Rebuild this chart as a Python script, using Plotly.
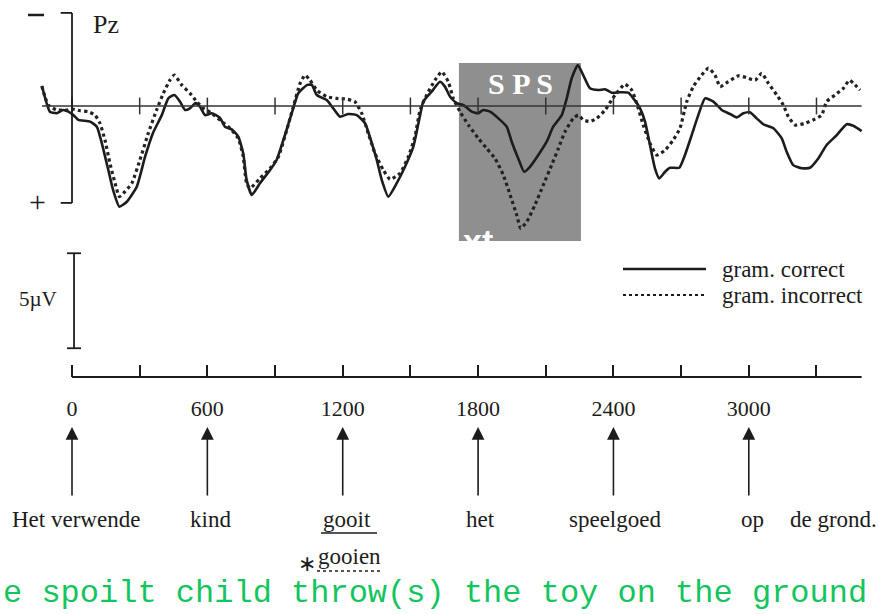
import plotly.graph_objects as go

# ---------------- data ----------------
correct_t = [-133, -98, -68, -39, -16, 6, 28, 80, 110, 132,
             161, 182, 210, 243, 287, 324, 359, 398, 427, 454,
             479, 501, 523, 548, 567, 590, 619, 656, 678, 708,
             737, 759, 774, 797, 833, 878, 907, 937, 974, 1003,
             1043, 1063, 1085, 1129, 1158, 1188, 1225, 1262, 1299, 1329,
             1351, 1373, 1402, 1439, 1476, 1513, 1543, 1557, 1594, 1631,
             1653, 1676, 1705, 1735, 1772, 1801, 1823, 1853, 1890, 1927,
             1949, 1978, 2004, 2030, 2067, 2104, 2133, 2171, 2193, 2215,
             2242, 2266, 2296, 2333, 2363, 2392, 2429, 2466, 2488, 2518,
             2540, 2562, 2584, 2603, 2629, 2651, 2692, 2717, 2747, 2776,
             2806, 2843, 2880, 2917, 2946, 2976, 3005, 3035, 3064, 3109,
             3146, 3168, 3197, 3235, 3271, 3308, 3345, 3390, 3434, 3463,
             3500]
correct_uv = [-1.05, 0.30, 0.38, 0.21, 0.30, 0.48, 0.73, 0.82, 1.09, 1.95,
              3.37, 4.42, 5.30, 5.04, 4.25, 2.67, 1.42, 0.48, -0.40, -0.58,
              -0.23, 0.21, 0.12, -0.15, 0.04, 0.48, 0.38, 0.63, 1.09, 1.23,
              1.61, 2.49, 3.89, 4.68, 4.07, 3.37, 2.84, 1.79, 0.38, -0.67,
              -1.11, -1.11, -0.58, -0.31, 0.12, 0.56, 0.42, 0.48, 0.91, 1.96,
              2.84, 3.89, 4.77, 4.07, 3.20, 2.14, 0.48, -0.23, -0.75, -1.28,
              -1.02, -0.49, -0.15, -0.05, 0.30, 0.38, 0.21, 0.30, 0.65, 1.09,
              1.88, 2.76, 3.46, 3.20, 2.58, 1.88, 1.09, 0.48, -0.40, -1.46,
              -2.16, -1.63, -0.93, -0.84, -0.88, -0.70, -0.72, -0.70, -0.40, 0.12,
              0.82, 2.05, 3.28, 3.81, 3.46, 3.25, 3.25, 2.58, 1.53, 0.48,
              -0.40, -0.23, 0.21, 0.42, 0.60, 0.38, 0.33, 0.65, 0.96, 1.17,
              1.70, 2.41, 3.11, 3.28, 3.25, 2.76, 2.05, 1.53, 0.96, 1.04,
              1.32]

incorrect_t = [-134, -120, -105, -68, -24, 6, 36, 72, 102, 124,
               146, 168, 191, 210, 227, 265, 301, 338, 375, 405,
               434, 454, 486, 523, 553, 582, 619, 664, 700, 737,
               759, 774, 789, 833, 878, 915, 952, 981, 1011, 1033,
               1055, 1085, 1129, 1173, 1218, 1254, 1284, 1313, 1343, 1380,
               1410, 1454, 1491, 1520, 1543, 1572, 1609, 1639, 1668, 1690,
               1720, 1757, 1801, 1838, 1875, 1912, 1942, 1971, 1989, 2016,
               2052, 2089, 2126, 2156, 2185, 2222, 2244, 2266, 2296, 2326,
               2363, 2407, 2451, 2481, 2503, 2532, 2562, 2592, 2629, 2665,
               2695, 2725, 2754, 2791, 2821, 2850, 2873, 2909, 2954, 2991,
               3028, 3057, 3087, 3124, 3153, 3175, 3205, 3249, 3293, 3323,
               3345, 3382, 3419, 3446, 3471, 3493]
incorrect_uv = [-1.05, -0.49, -0.05, 0.21, 0.21, 0.17, 0.25, 0.30, 0.48, 0.91,
                1.79, 3.01, 4.07, 4.77, 4.60, 4.07, 2.84, 1.44, 0.21, -0.67,
                -1.36, -1.63, -1.11, -0.67, -0.23, 0.12, 0.38, 0.82, 1.17, 1.70,
                2.67, 4.07, 4.33, 3.81, 3.28, 2.67, 1.26, 0.04, -1.19, -1.63,
                -1.36, -0.84, -0.49, -0.40, -0.36, -0.23, 0.38, 1.44, 2.49, 3.37,
                3.86, 3.54, 2.67, 1.61, 0.21, -0.58, -1.36, -1.80, -1.28, -0.40,
                0.30, 1.00, 1.70, 2.23, 2.76, 3.64, 4.68, 5.73, 6.44, 6.09,
                5.21, 4.16, 3.11, 2.23, 1.36, 0.65, 0.48, 0.73, 0.82, 0.65,
                0.21, -0.58, -1.15, -0.84, -0.15, 1.00, 1.96, 2.58, 2.32, 1.79,
                1.17, -0.23, -1.02, -1.63, -1.99, -1.63, -1.02, -1.28, -1.59, -1.49,
                -1.36, -1.72, -1.19, -0.58, -0.05, 0.56, 1.00, 0.91, 0.69, 0.48,
                -0.23, -0.58, -0.93, -1.36, -1.11, -0.84]

tick_times = [0, 300, 600, 900, 1200, 1500, 1800, 2100, 2400, 2700, 3000, 3300]
tick_labels = ["0", "", "600", "", "1200", "", "1800", "", "2400", "", "3000", ""]
time_end = 3500
word_onsets = [0, 600, 1200, 1800, 2400, 3000]
words = ["Het verwende", "kind", "gooit", "het", "speelgoed", "op"]
sps_window = [1715, 2256]
sps_uv = [-2.26, 7.11]
legend_names = ["gram. correct", "gram. incorrect"]
translation = "e spoilt child throw(s) the toy on the ground"

# ---------------- figure ----------------
W, H = 879, 614
X0PX, PXMS = 72, 0.2256      # pixel of t=0, pixels per ms
Y0PX, PXUV = 106, 19.0       # pixel of 0 uV, pixels per uV (negative up)
XRANGE = [-X0PX / PXMS, (W - X0PX) / PXMS]

def px(x):
    return x / W

def py(y):
    return 1 - y / H

SERIF = "Liberation Serif, Times New Roman, serif"
INK = "#1c1c1c"

fig = go.Figure()

fig.add_trace(go.Scatter(
    x=correct_t, y=correct_uv, mode="lines", name=legend_names[0],
    line=dict(color=INK, width=2.6, shape="spline", smoothing=0.5),
    hoverinfo="skip"))
fig.add_trace(go.Scatter(
    x=incorrect_t, y=incorrect_uv, mode="lines", name=legend_names[1],
    line=dict(color="#222", width=3.2, dash="dot", shape="spline", smoothing=0.5),
    hoverinfo="skip"))
# tick marks on the zero line
fig.add_trace(go.Scatter(
    x=tick_times, y=[0] * len(tick_times), mode="markers",
    marker=dict(symbol="line-ns", size=12, line=dict(width=1.5, color="#333")),
    hoverinfo="skip"))
# dummy trace for the bottom time axis
fig.add_trace(go.Scatter(x=[0], y=[None], xaxis="x2", yaxis="y",
                         mode="markers", hoverinfo="skip"))

shapes = []
# SPS window
shapes.append(dict(type="rect", xref="x", yref="y",
                   x0=sps_window[0], x1=sps_window[1], y0=sps_uv[0], y1=sps_uv[1],
                   fillcolor="#8f8f8f", line=dict(width=0), layer="below"))
# zero line
shapes.append(dict(type="line", xref="x", yref="y", x0=-133, x1=time_end, y0=0, y1=0,
                   line=dict(color="#333", width=1.6)))
# Left bracket (+ / -)
shapes.append(dict(type="line", xref="x", yref="y", x0=0, x1=0, y0=-4.9, y1=5.1,
                   line=dict(color=INK, width=1.8)))
for yy in (-4.9, 5.1):
    shapes.append(dict(type="line", xref="x", yref="y", x0=-50, x1=0, y0=yy, y1=yy,
                       line=dict(color=INK, width=1.8)))
# minus sign
shapes.append(dict(type="line", xref="paper", yref="paper",
                   x0=px(28), x1=px(44), y0=py(15), y1=py(15),
                   line=dict(color=INK, width=2.5)))
# 5 uV scale bar
shapes.append(dict(type="line", xref="x", yref="y", x0=9, x1=9, y0=7.75, y1=12.75,
                   line=dict(color=INK, width=1.8)))
for yy in (7.75, 12.75):
    shapes.append(dict(type="line", xref="x", yref="y", x0=-22, x1=40, y0=yy, y1=yy,
                       line=dict(color=INK, width=1.8)))
# bottom time axis line
shapes.append(dict(type="line", xref="x", yref="paper", x0=0, x1=time_end,
                   y0=py(377), y1=py(377), line=dict(color=INK, width=2)))
# legend samples
shapes.append(dict(type="line", xref="paper", yref="paper",
                   x0=px(623), x1=px(706), y0=py(269), y1=py(269),
                   line=dict(color=INK, width=2.5)))
shapes.append(dict(type="line", xref="paper", yref="paper",
                   x0=px(623), x1=px(706), y0=py(295), y1=py(295),
                   line=dict(color=INK, width=2, dash="dot")))
# underline of "gooit" and dotted underline of "gooien"
shapes.append(dict(type="line", xref="paper", yref="paper",
                   x0=px(321), x1=px(377), y0=py(533), y1=py(533),
                   line=dict(color=INK, width=1.6)))
shapes.append(dict(type="line", xref="paper", yref="paper",
                   x0=px(317), x1=px(382), y0=py(571), y1=py(571),
                   line=dict(color=INK, width=1.6, dash="dot")))

ann = []

def text(x, y, s, size=22, color=INK, family=SERIF, xanchor="center", bold=False):
    if bold:
        s = "<b>" + s + "</b>"
    ann.append(dict(xref="paper", yref="paper", x=px(x), y=py(y), text=s,
                    showarrow=False, xanchor=xanchor, yanchor="middle",
                    font=dict(size=size, color=color, family=family)))

text(37, 202, "+", size=30)
text(106, 24, "Pz", size=26)
text(520, 83, "S P S", size=30, color="white", bold=True)
text(478, 241, "xt", size=34, color="white", bold=True,
     family="Liberation Sans, Arial, sans-serif")
text(38, 299, "5µV", size=21)
text(720, 269, legend_names[0], size=23, xanchor="left")
text(720, 295, legend_names[1], size=23, xanchor="left")

# words under the arrows
word_px = [76, 210, 347, 480, 615, 752]
for wx, w in zip(word_px, words):
    text(wx, 519, w, size=23)
text(833, 519, "de grond.", size=23)
text(307, 563, "∗", size=22)
text(349, 556, "gooien", size=23)

# arrows at word onsets
for t in word_onsets:
    ann.append(dict(xref="x", yref="paper", x=t, y=py(427), ax=0, ay=70,
                    axref="pixel", ayref="pixel", text="", showarrow=True,
                    arrowhead=2, arrowsize=1.6, arrowwidth=1.6, arrowcolor=INK))

# green translation line
ann.append(dict(xref="paper", yref="paper", x=px(1), y=py(593), text=translation,
                showarrow=False, xanchor="left", yanchor="middle",
                font=dict(size=32, color="#14c45e",
                          family="Liberation Mono, Courier New, monospace")))

fig.update_layout(
    width=W, height=H, margin=dict(l=0, r=0, t=0, b=0),
    paper_bgcolor="white", plot_bgcolor="white", showlegend=False,
    xaxis=dict(range=XRANGE, domain=[0, 1], visible=False, fixedrange=True),
    yaxis=dict(range=[(H - Y0PX) / PXUV, -Y0PX / PXUV], domain=[0, 1],
               visible=False, fixedrange=True),
    xaxis2=dict(overlaying="x", anchor="free", position=py(377),
                range=XRANGE,
                tickmode="array", tickvals=tick_times, ticktext=tick_labels,
                ticks="inside", ticklen=12, tickwidth=1.5, tickcolor=INK,
                showline=False, showgrid=False,
                zeroline=False, ticklabelstandoff=16,
                tickfont=dict(size=22, family=SERIF, color=INK), fixedrange=True),
    shapes=shapes, annotations=ann,
)

fig.write_html("out.html", config={"displayModeBar": False},
               post_script="document.body.style.margin='0';"
                           "document.body.style.overflow='hidden';")
